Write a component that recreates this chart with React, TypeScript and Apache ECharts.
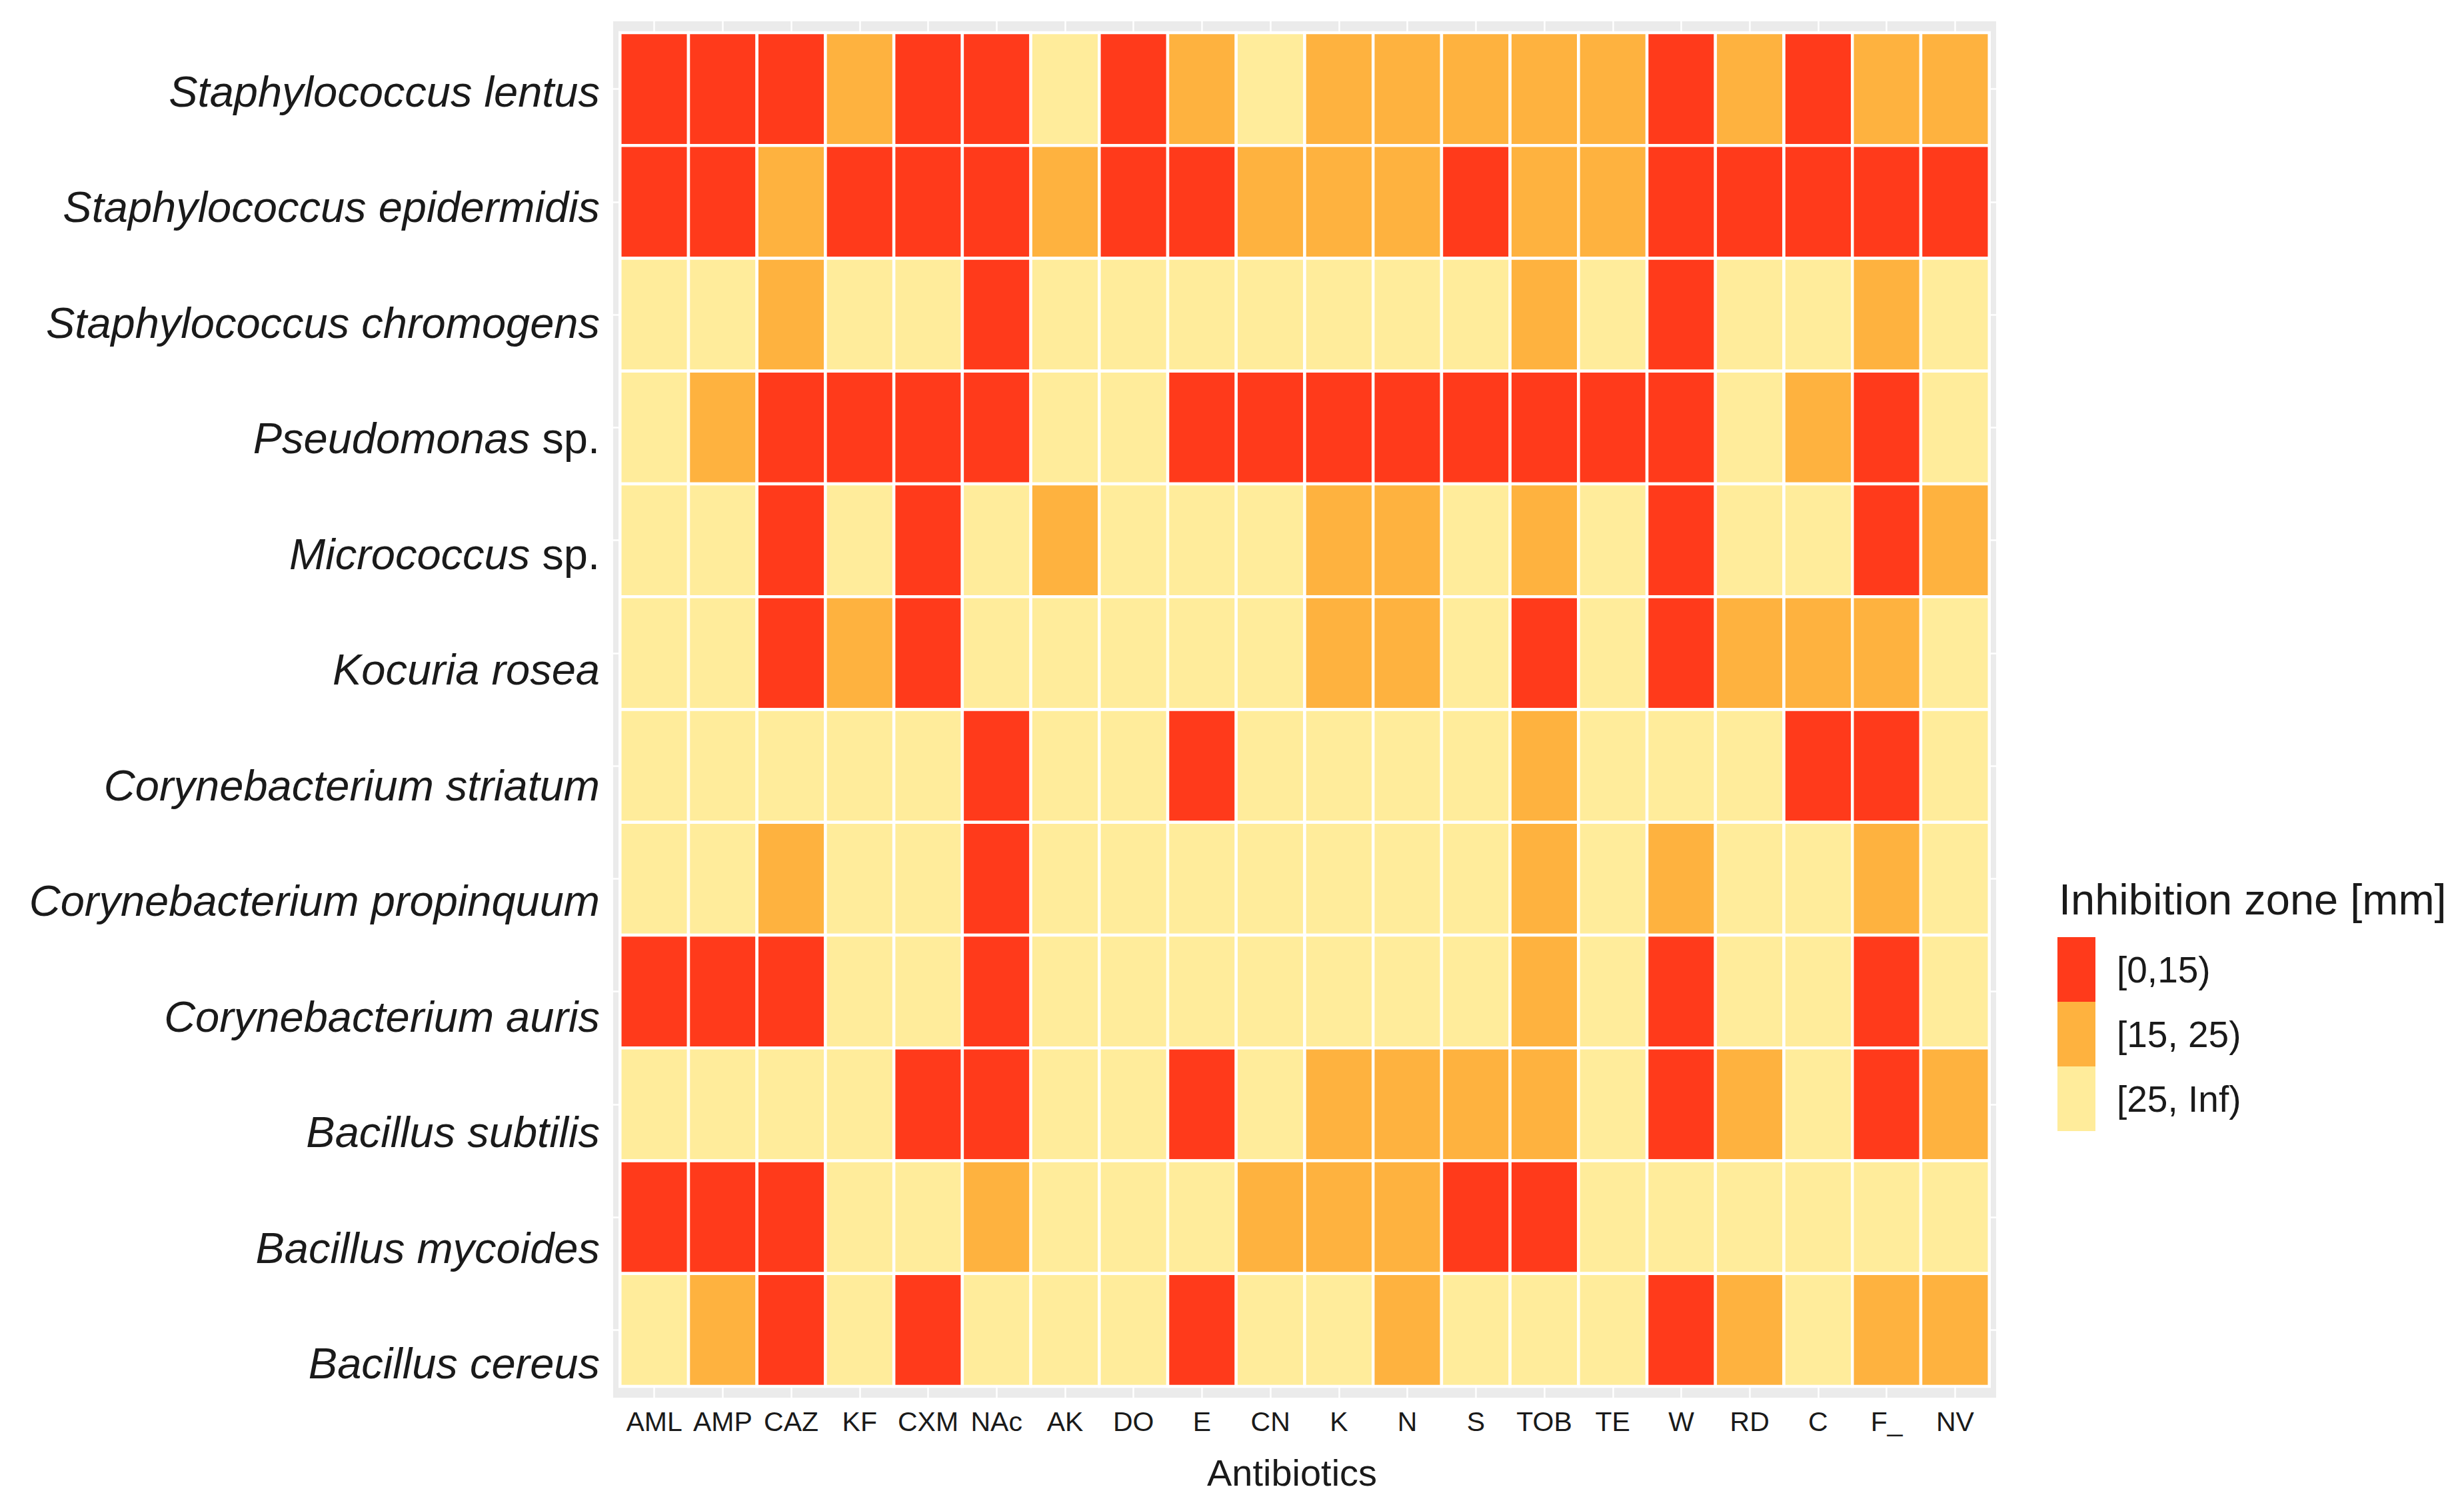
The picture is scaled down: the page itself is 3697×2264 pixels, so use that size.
import React, { useEffect, useRef } from 'react';
import * as echarts from 'echarts';

// Antibiotics (x axis categories)
const antibiotics = ['AML', 'AMP', 'CAZ', 'KF', 'CXM', 'NAc', 'AK', 'DO', 'E', 'CN', 'K', 'N', 'S', 'TOB', 'TE', 'W', 'RD', 'C', 'F_', 'NV'];

// Bacteria (y axis categories, top to bottom)
const bacteria = [
  'Staphylococcus lentus',
  'Staphylococcus epidermidis',
  'Staphylococcus chromogens',
  'Pseudomonas sp.',
  'Micrococcus sp.',
  'Kocuria rosea',
  'Corynebacterium striatum',
  'Corynebacterium propinquum',
  'Corynebacterium auris',
  'Bacillus subtilis',
  'Bacillus mycoides',
  'Bacillus cereus',
];

// Inhibition zone classes
const zoneLabels = ['[0,15)', '[15, 25)', '[25, Inf)'];
const zoneColors = ['#FF3A1B', '#FEB23F', '#FFEC9B'];

// Class index per antibiotic (0 = [0,15), 1 = [15,25), 2 = [25,Inf))
const sLentus = [0, 0, 0, 1, 0, 0, 2, 0, 1, 2, 1, 1, 1, 1, 1, 0, 1, 0, 1, 1];
const sEpidermidis = [0, 0, 1, 0, 0, 0, 1, 0, 0, 1, 1, 1, 0, 1, 1, 0, 0, 0, 0, 0];
const sChromogens = [2, 2, 1, 2, 2, 0, 2, 2, 2, 2, 2, 2, 2, 1, 2, 0, 2, 2, 1, 2];
const pseudomonas = [2, 1, 0, 0, 0, 0, 2, 2, 0, 0, 0, 0, 0, 0, 0, 0, 2, 1, 0, 2];
const micrococcus = [2, 2, 0, 2, 0, 2, 1, 2, 2, 2, 1, 1, 2, 1, 2, 0, 2, 2, 0, 1];
const kocuriaRosea = [2, 2, 0, 1, 0, 2, 2, 2, 2, 2, 1, 1, 2, 0, 2, 0, 1, 1, 1, 2];
const cStriatum = [2, 2, 2, 2, 2, 0, 2, 2, 0, 2, 2, 2, 2, 1, 2, 2, 2, 0, 0, 2];
const cPropinquum = [2, 2, 1, 2, 2, 0, 2, 2, 2, 2, 2, 2, 2, 1, 2, 1, 2, 2, 1, 2];
const cAuris = [0, 0, 0, 2, 2, 0, 2, 2, 2, 2, 2, 2, 2, 1, 2, 0, 2, 2, 0, 2];
const bSubtilis = [2, 2, 2, 2, 0, 0, 2, 2, 0, 2, 1, 1, 1, 1, 2, 0, 1, 2, 0, 1];
const bMycoides = [0, 0, 0, 2, 2, 1, 2, 2, 2, 1, 1, 1, 0, 0, 2, 2, 2, 2, 2, 2];
const bCereus = [2, 1, 0, 2, 0, 2, 2, 2, 0, 2, 2, 1, 2, 2, 2, 0, 1, 2, 1, 1];

const rows = [sLentus, sEpidermidis, sChromogens, pseudomonas, micrococcus, kocuriaRosea, cStriatum, cPropinquum, cAuris, bSubtilis, bMycoides, bCereus];

const FONT = "'Liberation Sans', Arial, Helvetica, sans-serif";
const TEXT = '#1a1a1a';

export default function App() {
  const ref = useRef<HTMLDivElement>(null);

  useEffect(() => {
    if (!ref.current) return;
    const chart = echarts.init(ref.current, undefined, { renderer: 'svg' });

    const data: number[][] = [];
    rows.forEach((row, yi) => row.forEach((v, xi) => data.push([xi, yi, v])));

    const xIdx = antibiotics.map((_, i) => i);
    const yIdx = bacteria.map((_, i) => i);

    chart.setOption({
      animation: false,
      backgroundColor: '#ffffff',
      textStyle: { fontFamily: FONT },
      title: {
        text: 'Inhibition zone [mm]',
        left: 3089,
        top: 1317,
        padding: 0,
        textStyle: { fontSize: 65, fontWeight: 'normal', color: TEXT, fontFamily: FONT },
      },
      grid: {
        left: 920,
        top: 32,
        width: 2075,
        height: 2065,
        show: true,
        backgroundColor: '#EBEBEB',
        borderWidth: 0,
      },
      xAxis: {
        type: 'value',
        min: -0.6,
        max: 19.6,
        axisLine: { show: false },
        axisTick: { show: true, customValues: xIdx, length: 10, lineStyle: { color: '#333333', width: 2 } },
        axisLabel: {
          customValues: xIdx,
          formatter: (v: number) => antibiotics[Math.round(v)] ?? '',
          fontSize: 41,
          color: TEXT,
          margin: 15,
          fontFamily: FONT,
        },
        splitLine: { show: true, lineStyle: { color: '#ffffff', width: 2.5 } },
        name: 'Antibiotics',
        nameLocation: 'middle',
        nameGap: 84,
        nameTextStyle: { fontSize: 56, color: TEXT, fontFamily: FONT, padding: [0, 38, 0, 0] },
      },
      yAxis: [
        {
          type: 'value',
          position: 'left',
          min: -0.6,
          max: 11.6,
          inverse: true,
          axisLine: { show: false },
          axisTick: { show: true, customValues: yIdx, length: 10, lineStyle: { color: '#333333', width: 2 } },
          axisLabel: { show: false },
          splitLine: { show: true, lineStyle: { color: '#ffffff', width: 2.5 } },
        },
        {
          // label-only axis: the species names sit slightly below their tiles in the reference
          type: 'value',
          position: 'left',
          offset: 0,
          min: -0.608,
          max: 11.294,
          inverse: true,
          axisLine: { show: false },
          axisTick: { show: false },
          splitLine: { show: false },
          axisLabel: {
            customValues: yIdx,
            margin: 20,
            formatter: (v: number) => {
              const name = bacteria[Math.round(v)] ?? '';
              if (name.endsWith(' sp.')) return `{i|${name.slice(0, -4)}}{n| sp.}`;
              return `{i|${name}}`;
            },
            rich: {
              i: { fontStyle: 'italic', fontSize: 65, color: TEXT, fontFamily: FONT },
              n: { fontStyle: 'normal', fontSize: 65, color: TEXT, fontFamily: FONT },
            },
          },
        },
      ],
      visualMap: {
        type: 'piecewise',
        dimension: 2,
        seriesIndex: 0,
        pieces: zoneLabels.map((label, i) => ({ value: i, label, color: zoneColors[i] })),
        orient: 'vertical',
        inverse: true,
        align: 'left',
        left: 3087,
        top: 1406,
        padding: 0,
        itemWidth: 57,
        itemHeight: 97,
        itemGap: 0,
        itemSymbol: 'rect',
        textGap: 32,
        selectedMode: false,
        hoverLink: false,
        textStyle: { fontSize: 55, color: TEXT, fontFamily: FONT },
      },
      series: [
        {
          type: 'custom',
          coordinateSystem: 'cartesian2d',
          xAxisIndex: 0,
          yAxisIndex: 0,
          data,
          encode: { x: 0, y: 1 },
          renderItem: (params: any, api: any) => {
            const x = api.value(0);
            const y = api.value(1);
            const p0 = api.coord([x - 0.5, y - 0.5]);
            const p1 = api.coord([x + 0.5, y + 0.5]);
            return {
              type: 'rect',
              shape: {
                x: Math.min(p0[0], p1[0]),
                y: Math.min(p0[1], p1[1]),
                width: Math.abs(p1[0] - p0[0]),
                height: Math.abs(p1[1] - p0[1]),
              },
              style: { fill: api.visual('color'), stroke: '#ffffff', lineWidth: 4.5 },
            };
          },
        },
      ],
    });

    return () => chart.dispose();
  }, []);

  return <div ref={ref} style={{ position: 'fixed', left: 0, top: 0, width: 3697, height: 2264 }} />;
}
